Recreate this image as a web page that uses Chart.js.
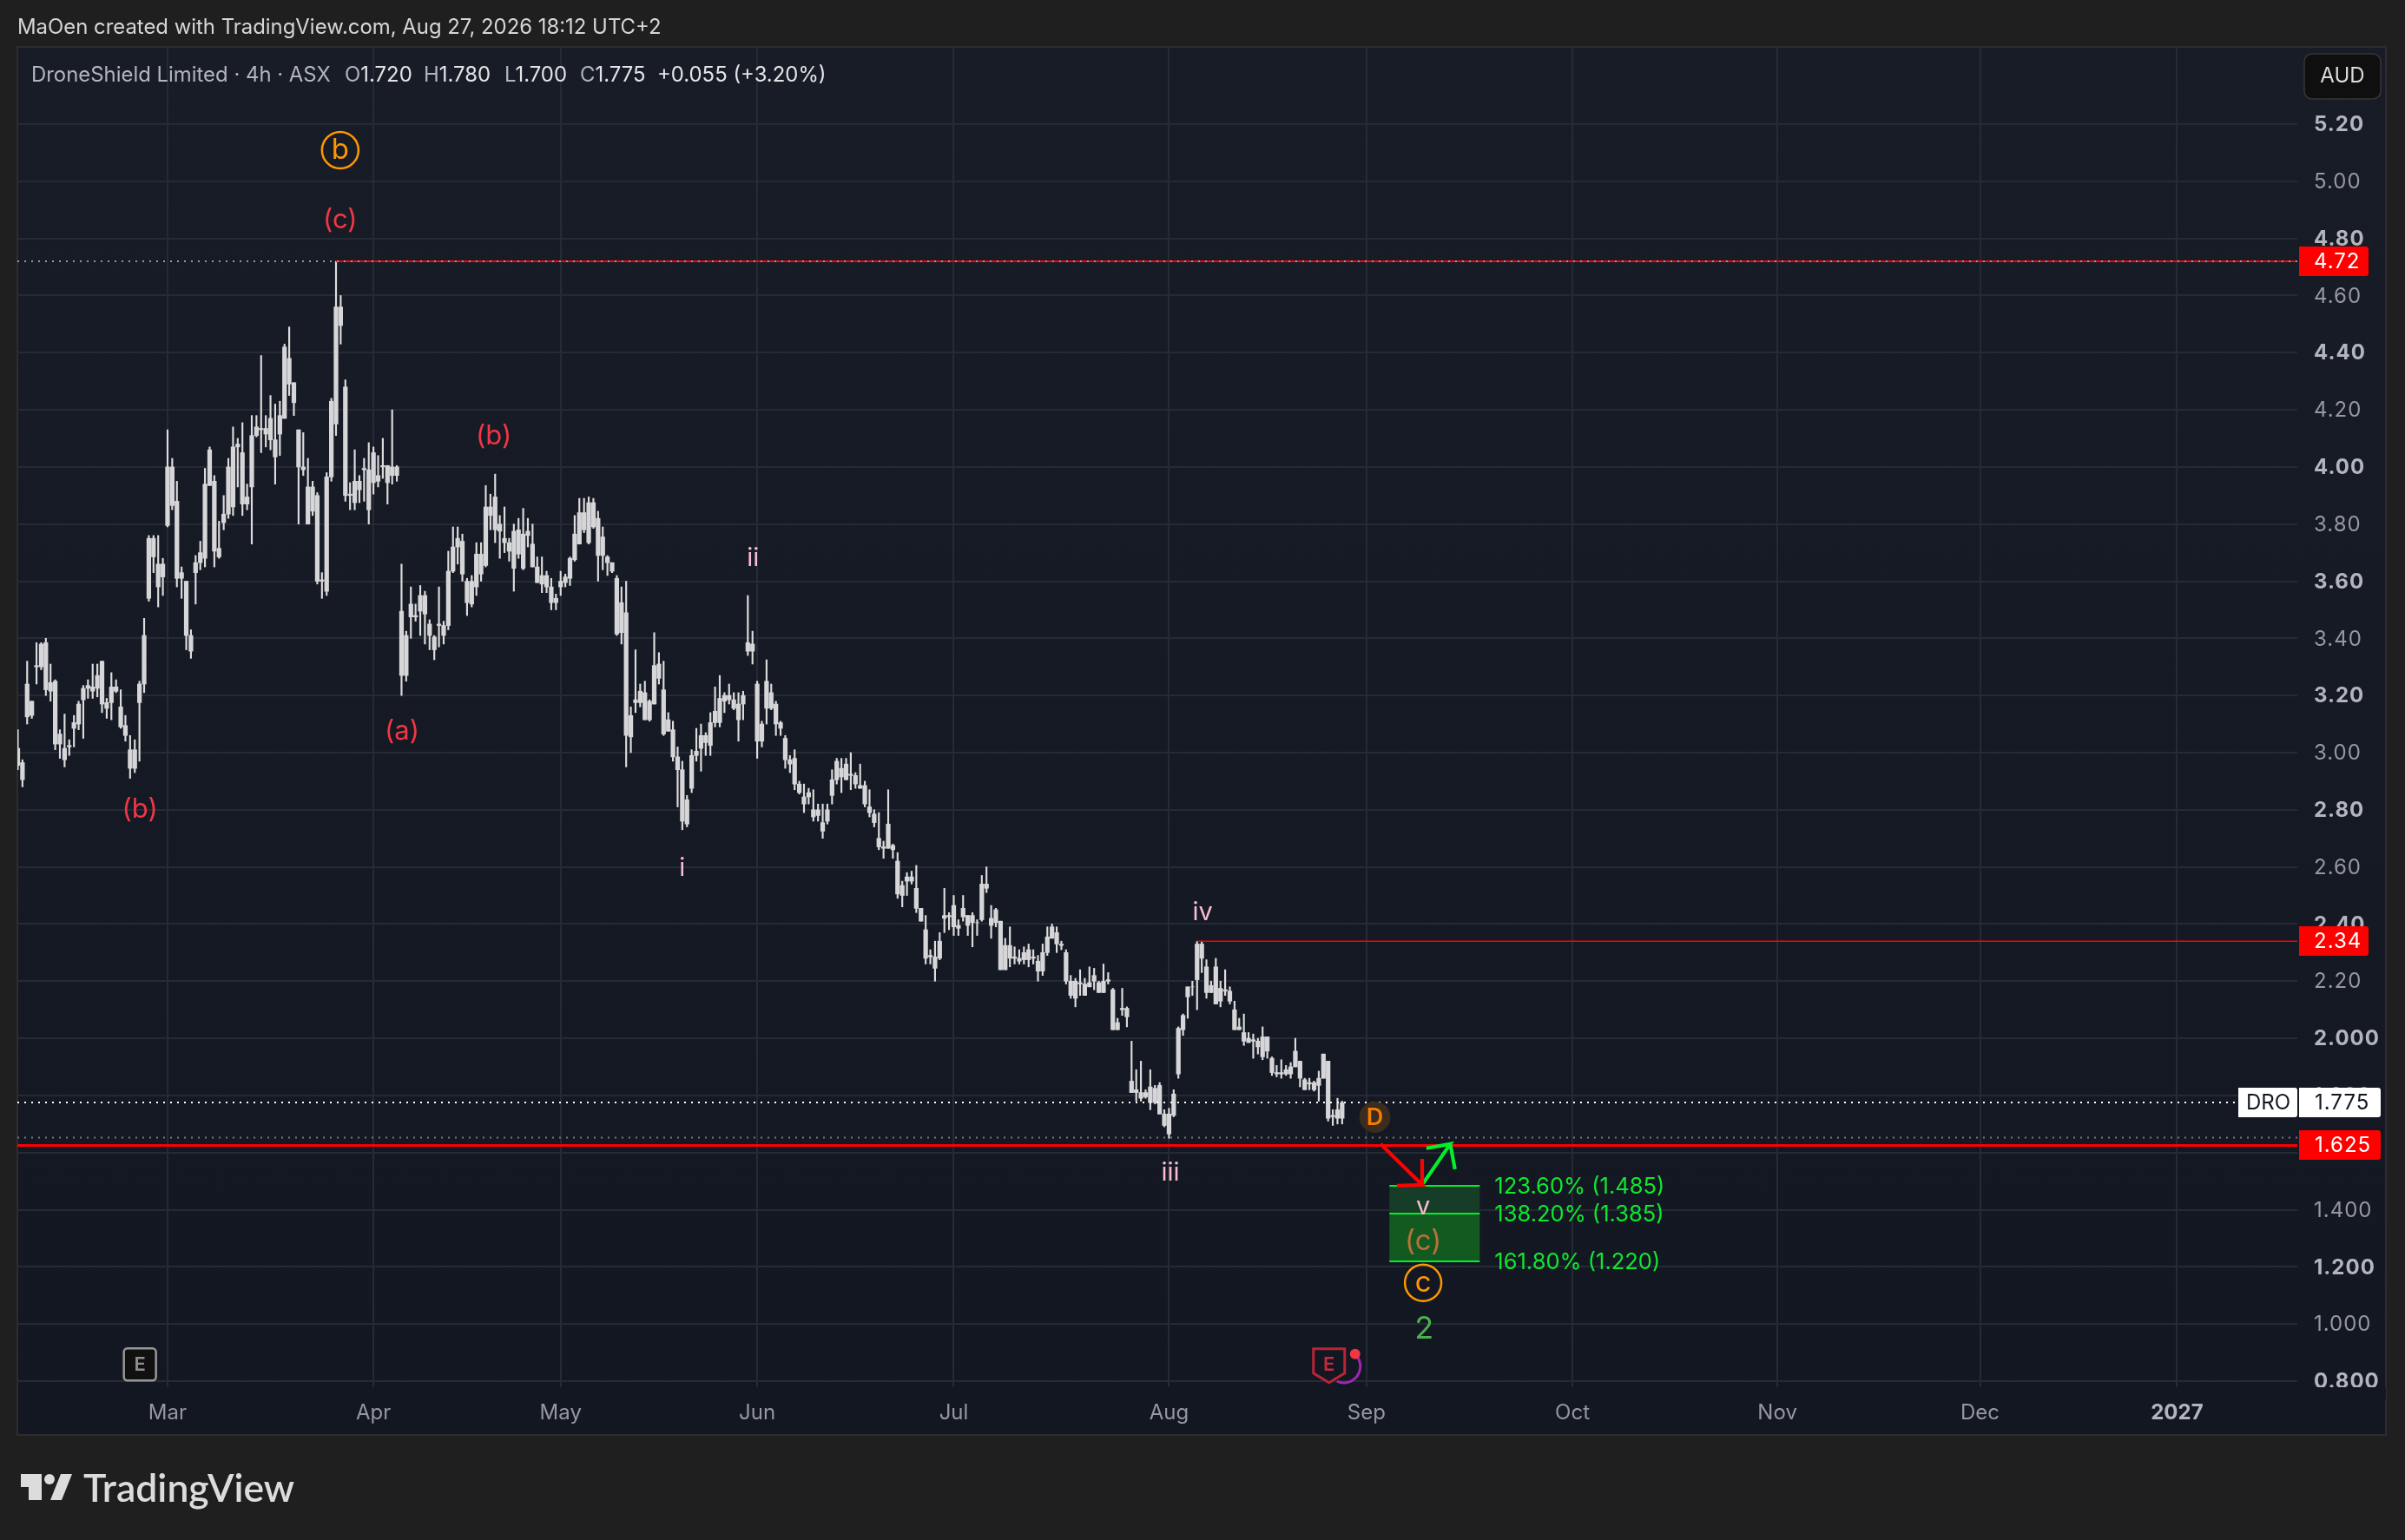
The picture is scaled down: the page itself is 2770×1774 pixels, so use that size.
<!DOCTYPE html>
<html>
<head>
<meta charset="utf-8">
<title>DroneShield Limited 4h</title>
<script src="https://cdn.jsdelivr.net/npm/chart.js@4"></script>
<style>
html, body { margin: 0; padding: 0; background: #1f1f1f; }
#page { position: relative; width: 2770px; height: 1774px; overflow: hidden; font-family: Inter, sans-serif; }
#pane { position: absolute; left: 19px; top: 53px; width: 2730px; height: 1601px; box-sizing: border-box;
        border: 2px solid #2d2d2f; background: linear-gradient(#181c27, #131722); }
#activityChart { position: absolute; left: 0; top: 0; }
.t { position: absolute; white-space: nowrap; font-size: 23.9px; line-height: 30px; }
.dim { color: #b2b5be; }
.val { color: #e4e4e6; }
</style>
</head>
<body>
<div id="page">
  <div id="pane"></div>
  <canvas id="activityChart" width="2770" height="1774"></canvas>
  <div class="t" style="left:20px;top:16px;color:#d6d6d6">MaOen created with TradingView.com, Aug 27, 2026 18:12 UTC+2</div>
  <div class="t dim" style="left:36px;top:71px">DroneShield Limited · 4h · ASX</div>
  <div class="t" style="left:397px;top:71px"><span class="dim">O</span><span class="val">1.720</span></div>
  <div class="t" style="left:488px;top:71px"><span class="dim">H</span><span class="val">1.780</span></div>
  <div class="t" style="left:581px;top:71px"><span class="dim">L</span><span class="val">1.700</span></div>
  <div class="t" style="left:668px;top:71px"><span class="dim">C</span><span class="val">1.775</span></div>
  <div class="t val" style="left:757px;top:71px">+0.055 (+3.20%)</div>
  <svg style="position:absolute;left:0;top:1690px" width="100" height="50">
    <path d="M24 8H48V38H33V23H24Z M70 8H83L71 38H58Z" fill="#dcdcdc"/>
    <circle cx="57" cy="14" r="6" fill="#dcdcdc"/>
  </svg>
  <div class="t" style="left:96px;top:1688px;font-size:44.5px;line-height:50px;font-weight:600;color:#dcdcdc;font-family:Lato,Inter,sans-serif">TradingView</div>
</div>
<script>
// wicks and bodies, one value per 4h bar
const wickHighs = [
    3.08,2.975,3.32,3.18,3.385,3.385,3.40,3.31,3.255,3.08,
    3.135,3.045,3.13,3.18,3.235,3.255,3.31,3.31,3.32,3.19,
    3.28,3.255,3.22,3.13,3.06,3.045,3.25,3.47,3.76,3.76,
    3.76,3.68,4.13,4.03,3.95,3.65,3.60,3.43,3.69,3.74,
    3.995,4.07,3.97,3.81,3.90,4.03,4.14,4.10,4.155,3.94,
    4.18,4.18,4.39,4.18,4.25,4.22,4.23,4.43,4.49,4.295,
    4.13,4.12,4.03,3.95,3.91,3.63,3.98,4.24,4.72,4.60,
    4.305,3.945,4.06,3.97,4.03,4.085,4.07,4.04,4.10,4.005,
    4.20,4.005,3.66,3.425,3.58,3.52,3.585,3.565,3.465,3.41,
    3.58,3.46,3.705,3.79,3.79,3.765,3.61,3.62,3.735,3.735,
    3.935,3.905,3.975,3.83,3.86,3.75,3.80,3.82,3.855,3.82,
    3.80,3.685,3.685,3.635,3.61,3.555,3.635,3.625,3.685,3.83,
    3.89,3.89,3.895,3.89,3.845,3.79,3.69,3.665,3.62,3.58,
    3.60,3.16,3.36,3.24,3.25,3.185,3.42,3.35,3.32,3.14,
    3.11,3.02,2.97,2.85,3.01,3.085,3.10,3.07,3.14,3.23,
    3.27,3.21,3.24,3.21,3.21,3.215,3.55,3.425,3.25,3.11,
    3.325,3.24,3.18,3.11,3.06,2.99,3.01,2.90,2.89,2.875,
    2.87,2.82,2.82,2.82,2.94,2.98,2.98,2.98,3.00,2.93,
    2.96,2.90,2.87,2.80,2.79,2.69,2.87,2.68,2.65,2.55,
    2.58,2.585,2.605,2.455,2.43,2.31,2.34,2.37,2.525,2.44,
    2.50,2.415,2.50,2.43,2.44,2.415,2.57,2.60,2.465,2.455,
    2.41,2.35,2.39,2.32,2.31,2.32,2.33,2.31,2.29,2.33,
    2.39,2.40,2.39,2.34,2.31,2.22,2.21,2.24,2.21,2.25,
    2.245,2.20,2.26,2.23,2.175,2.07,2.175,2.11,1.99,1.89,
    1.92,1.82,1.89,1.835,1.845,1.75,1.755,1.82,2.04,2.085,
    2.18,2.20,2.34,2.34,2.275,2.20,2.28,2.20,2.24,2.18,
    2.13,2.07,2.085,2.02,2.015,2.00,2.04,2.005,1.935,1.905,
    1.925,1.905,1.915,2.00,1.92,1.86,1.86,1.85,1.885,1.945,
    1.92,1.75,1.79,1.78,
];
const bodyHighs = [
    3.015,2.965,3.24,3.18,3.305,3.38,3.385,3.245,3.25,3.065,
    3.015,3.025,3.105,3.17,3.225,3.235,3.23,3.27,3.32,3.175,
    3.23,3.23,3.16,3.095,3.01,3.01,3.24,3.41,3.75,3.75,
    3.66,3.66,4.00,4.00,3.88,3.63,3.60,3.41,3.665,3.70,
    3.94,4.06,3.95,3.715,3.835,4.00,4.07,4.08,4.05,3.895,
    4.11,4.14,4.135,4.135,4.17,4.095,4.18,4.42,4.38,4.295,
    4.13,4.00,3.93,3.93,3.90,3.605,3.965,4.23,4.56,4.56,
    4.28,3.905,3.95,3.95,3.995,3.99,4.05,3.97,4.005,4.005,
    4.00,4.00,3.495,3.41,3.52,3.48,3.55,3.55,3.45,3.405,
    3.45,3.445,3.635,3.72,3.75,3.74,3.60,3.60,3.695,3.695,
    3.86,3.86,3.895,3.80,3.75,3.735,3.775,3.78,3.765,3.775,
    3.73,3.65,3.62,3.62,3.58,3.54,3.60,3.615,3.68,3.765,
    3.84,3.84,3.875,3.875,3.82,3.755,3.685,3.665,3.61,3.525,
    3.49,3.13,3.185,3.215,3.21,3.18,3.305,3.31,3.22,3.115,
    3.08,2.985,2.94,2.835,2.99,3.005,3.06,3.06,3.105,3.145,
    3.19,3.20,3.20,3.185,3.17,3.20,3.385,3.38,3.24,3.10,
    3.25,3.21,3.17,3.105,3.05,2.975,2.98,2.89,2.845,2.86,
    2.80,2.80,2.755,2.80,2.905,2.97,2.945,2.96,2.925,2.92,
    2.885,2.885,2.81,2.785,2.70,2.67,2.75,2.675,2.62,2.535,
    2.565,2.565,2.525,2.455,2.38,2.29,2.285,2.34,2.43,2.43,
    2.465,2.395,2.455,2.43,2.43,2.405,2.54,2.54,2.42,2.45,
    2.41,2.325,2.325,2.285,2.28,2.30,2.31,2.285,2.27,2.30,
    2.355,2.39,2.37,2.33,2.30,2.20,2.20,2.195,2.19,2.195,
    2.22,2.195,2.20,2.205,2.17,2.055,2.105,2.105,1.85,1.82,
    1.81,1.81,1.83,1.825,1.835,1.735,1.735,1.805,2.035,2.08,
    2.18,2.18,2.33,2.33,2.25,2.185,2.25,2.175,2.17,2.165,
    2.10,2.04,2.02,2.00,1.995,1.99,2.005,2.005,1.93,1.88,
    1.88,1.89,1.90,1.955,1.92,1.855,1.845,1.845,1.86,1.945,
    1.92,1.73,1.75,1.775,
];
const bodyLows = [
    2.955,2.905,3.125,3.13,3.30,3.30,3.22,3.215,3.03,3.03,
    2.975,3.02,3.085,3.10,3.185,3.225,3.215,3.225,3.17,3.155,
    3.175,3.215,3.09,3.06,2.945,2.945,3.175,3.24,3.54,3.685,
    3.58,3.615,3.795,3.865,3.61,3.61,3.41,3.355,3.63,3.665,
    3.68,3.935,3.705,3.685,3.805,3.835,3.86,4.07,3.87,3.87,
    3.93,4.11,4.13,4.115,4.095,4.035,4.115,4.17,4.29,4.225,
    4.00,3.99,3.80,3.845,3.60,3.60,3.565,3.965,4.15,4.495,
    3.90,3.90,3.875,3.92,3.99,3.85,3.945,3.95,4.00,3.945,
    3.97,3.97,3.27,3.27,3.475,3.475,3.495,3.485,3.41,3.36,
    3.445,3.41,3.445,3.635,3.72,3.625,3.525,3.52,3.58,3.625,
    3.655,3.83,3.78,3.775,3.735,3.705,3.645,3.695,3.645,3.76,
    3.65,3.595,3.59,3.58,3.525,3.525,3.58,3.595,3.61,3.675,
    3.73,3.78,3.735,3.79,3.69,3.69,3.665,3.635,3.415,3.42,
    3.06,3.055,3.175,3.175,3.115,3.115,3.17,3.26,3.065,3.075,
    2.985,2.94,2.76,2.75,2.875,2.99,3.015,3.035,3.025,3.105,
    3.105,3.18,3.185,3.155,3.115,3.17,3.355,3.355,3.04,3.04,
    3.155,3.155,3.10,3.085,2.975,2.96,2.89,2.86,2.82,2.845,
    2.775,2.78,2.725,2.76,2.85,2.905,2.915,2.905,2.92,2.89,
    2.875,2.82,2.79,2.755,2.67,2.665,2.665,2.66,2.505,2.50,
    2.55,2.55,2.455,2.41,2.28,2.285,2.245,2.28,2.42,2.425,
    2.39,2.385,2.425,2.395,2.405,2.405,2.415,2.525,2.395,2.405,
    2.24,2.24,2.28,2.28,2.27,2.275,2.275,2.28,2.235,2.235,
    2.30,2.35,2.33,2.325,2.20,2.15,2.14,2.19,2.15,2.18,
    2.20,2.16,2.16,2.20,2.03,2.03,2.10,2.075,1.81,1.81,
    1.79,1.795,1.775,1.775,1.735,1.695,1.665,1.73,1.875,2.03,
    2.145,2.18,2.205,2.28,2.16,2.16,2.12,2.13,2.165,2.13,
    2.03,2.03,1.99,1.985,1.99,1.97,1.935,1.955,1.88,1.875,
    1.875,1.875,1.875,1.90,1.86,1.82,1.84,1.82,1.835,1.86,
    1.72,1.725,1.72,1.72,
];
const wickLows = [
    2.94,2.88,3.10,3.12,3.24,3.29,3.20,3.18,3.01,2.98,
    2.95,2.99,3.02,3.08,3.05,3.19,3.19,3.195,3.14,3.12,
    3.115,3.21,3.085,3.04,2.91,2.93,2.97,3.21,3.53,3.63,
    3.51,3.55,3.79,3.85,3.58,3.54,3.36,3.33,3.52,3.64,
    3.65,3.935,3.65,3.68,3.78,3.82,3.83,3.93,3.83,3.85,
    3.73,4.105,4.05,4.07,4.06,3.94,4.04,4.17,4.25,4.18,
    3.80,3.97,3.80,3.83,3.59,3.54,3.55,3.95,4.11,4.43,
    3.88,3.85,3.85,3.875,3.88,3.80,3.905,3.93,3.96,3.87,
    3.94,3.95,3.20,3.25,3.40,3.46,3.41,3.38,3.36,3.325,
    3.37,3.38,3.43,3.63,3.66,3.60,3.48,3.51,3.55,3.60,
    3.65,3.78,3.735,3.68,3.70,3.67,3.565,3.68,3.64,3.72,
    3.65,3.595,3.56,3.56,3.50,3.50,3.55,3.58,3.585,3.67,
    3.73,3.77,3.73,3.785,3.60,3.64,3.62,3.63,3.41,3.38,
    2.95,3.00,3.14,3.16,3.115,3.11,3.17,3.24,3.06,3.075,
    2.97,2.81,2.73,2.74,2.86,2.97,2.935,2.99,2.99,3.09,
    3.09,3.14,3.17,3.15,3.04,3.115,3.34,3.31,2.98,3.02,
    3.10,3.15,3.06,3.06,2.945,2.93,2.87,2.855,2.79,2.82,
    2.76,2.76,2.70,2.75,2.82,2.89,2.86,2.905,2.87,2.875,
    2.875,2.81,2.775,2.74,2.66,2.63,2.665,2.63,2.49,2.46,
    2.50,2.54,2.44,2.41,2.26,2.26,2.20,2.275,2.37,2.38,
    2.36,2.36,2.41,2.36,2.32,2.36,2.41,2.51,2.35,2.39,
    2.24,2.24,2.25,2.26,2.26,2.26,2.25,2.26,2.20,2.22,
    2.29,2.35,2.30,2.31,2.19,2.14,2.11,2.15,2.15,2.18,
    2.17,2.16,2.16,2.19,2.03,2.03,2.08,2.04,1.81,1.78,
    1.78,1.79,1.75,1.77,1.735,1.69,1.65,1.725,1.86,2.01,
    2.07,2.15,2.10,2.23,2.14,2.16,2.12,2.11,2.15,2.12,
    2.03,2.03,1.975,1.985,1.93,1.945,1.925,1.93,1.87,1.865,
    1.86,1.87,1.86,1.90,1.83,1.82,1.82,1.815,1.78,1.86,
    1.71,1.695,1.70,1.70,
];

const monthTicks = [32, 76, 116, 158, 200, 246, 288.2, 332.2, 376, 419.3, 461.4];
const monthLabels = ["Mar", "Apr", "May", "Jun", "Jul", "Aug", "Sep", "Oct", "Nov", "Dec", "2027"];
const priceTicks = [5.2, 5.0, 4.8, 4.6, 4.4, 4.2, 4.0, 3.8, 3.6, 3.4, 3.2, 3.0, 2.8, 2.6, 2.4, 2.2, 2.0, 1.8, 1.6, 1.4, 1.2, 1.0, 0.8];
const priceLabels = ["5.20", "5.00", "4.80", "4.60", "4.40", "4.20", "4.00", "3.80", "3.60", "3.40", "3.20", "3.00", "2.80", "2.60", "2.40", "2.20", "2.000", "1.800", "1.600", "1.400", "1.200", "1.000", "0.800"];

// wave counts: text, bar, price
const redWaves = [["(c)", 68.9, 4.863], ["(b)", 101.7, 4.106], ["(a)", 82.1, 3.073], ["(b)", 26.1, 2.80]];
const pinkWaves = [["ii", 157.1, 3.681], ["i", 142, 2.596], ["iv", 253.2, 2.441], ["iii", 246.3, 1.529], ["v", 300.3, 1.411]];
const circledWaves = [["b", 68.9, 5.109], ["c", 300.3, 1.144]];

const fibBars = [293.1, 312.4];
const fibPrices = [1.485, 1.385, 1.22];
const fibLabels = ["123.60% (1.485)", "138.20% (1.385)", "161.80% (1.220)"];

const redArrow = [[291.2, 1.63], [300.1, 1.487], [294.7, 1.484], [300.1, 1.487], [300.1, 1.578]];
const greenArrow = [[300.1, 1.487], [306.1, 1.63], [301.0, 1.615], [306.1, 1.63], [307.1, 1.542]];

const xMin = -0.09, xMax = 487.11, yMin = 0.7786, yMax = 5.4735;

function flatLine(fromBar, price, color, dash, order, width) {
    return {
        type: "line",
        data: [{x: fromBar, y: price}, {x: xMax, y: price}],
        borderColor: color,
        borderWidth: width,
        borderDash: dash,
        pointRadius: 0,
        order: order,
    };
}
function pathLine(points, color) {
    return {
        type: "line",
        data: points.map(p => ({x: p[0], y: p[1]})),
        borderColor: color,
        borderWidth: 4.2,
        pointRadius: 0,
        order: 1,
    };
}

const chartDecor = {
    id: "chartDecor",
    beforeDatasetsDraw(chart) {
        const {ctx, scales: {x, y}} = chart;
        const l = x.getPixelForValue(fibBars[0]), r = x.getPixelForValue(fibBars[1]);
        const p = fibPrices.map(v => y.getPixelForValue(v));
        ctx.save();
        ctx.fillStyle = "#153d27";
        ctx.fillRect(l, p[0], r - l, p[1] - p[0]);
        ctx.fillStyle = "#135a20";
        ctx.fillRect(l, p[1], r - l, p[2] - p[1]);
        ctx.strokeStyle = "#00f02c";
        ctx.lineWidth = 2;
        p.forEach(v => {
            ctx.beginPath();
            ctx.moveTo(l, Math.round(v));
            ctx.lineTo(r, Math.round(v));
            ctx.stroke();
        });
        ctx.restore();
    },
    afterDatasetsDraw(chart) {
        // the price column is spaced a little wider than plain Inter
        chart.ctx.letterSpacing = "1px";
    },
    afterDraw(chart) {
        const {ctx, scales: {x, y}} = chart;
        ctx.letterSpacing = "0px";
        ctx.save();
        ctx.textBaseline = "middle";
        ctx.textAlign = "center";

        // 0.800 is cut off at the bottom of the price column
        ctx.fillStyle = "#131722";
        ctx.fillRect(2647, 1598, 101, 14);

        ctx.font = "31px Inter";
        ctx.fillStyle = "#f23645";
        redWaves.forEach(w => ctx.fillText(w[0], x.getPixelForValue(w[1]), y.getPixelForValue(w[2])));
        ctx.font = "29px Inter";
        ctx.fillStyle = "#f8bbd0";
        pinkWaves.forEach(w => ctx.fillText(w[0], x.getPixelForValue(w[1]), y.getPixelForValue(w[2])));

        ctx.font = "33px Inter";
        ctx.fillStyle = "#b8713a";
        ctx.fillText("(c)", x.getPixelForValue(300.3), y.getPixelForValue(1.289));
        ctx.font = "36px Inter";
        ctx.fillStyle = "#4caf50";
        ctx.fillText("2", x.getPixelForValue(300.5), y.getPixelForValue(0.982));

        ctx.font = "33px Inter";
        ctx.lineWidth = 2.5;
        ctx.strokeStyle = ctx.fillStyle = "#ff9800";
        circledWaves.forEach(w => {
            const cx = x.getPixelForValue(w[1]), cy = y.getPixelForValue(w[2]);
            ctx.beginPath();
            ctx.arc(cx, cy, 21, 0, Math.PI * 2);
            ctx.stroke();
            ctx.fillText(w[0], cx, cy);
        });

        const r = x.getPixelForValue(fibBars[1]);
        ctx.textAlign = "left";
        ctx.font = "25.5px Inter";
        ctx.fillStyle = "#0fe82f";
        fibPrices.forEach((v, i) => ctx.fillText(fibLabels[i], r + 17, Math.round(y.getPixelForValue(v)) + 1));

        // dividend badge
        ctx.textAlign = "center";
        let bx = x.getPixelForValue(290), by = y.getPixelForValue(1.724);
        ctx.fillStyle = "#3a2c1e";
        ctx.beginPath();
        ctx.arc(bx, by, 18, 0, Math.PI * 2);
        ctx.fill();
        ctx.font = "600 27px Inter";
        ctx.fillStyle = "#f57c00";
        ctx.fillText("D", bx, by + 1);

        // past earnings badge
        bx = x.getPixelForValue(26.1);
        by = y.getPixelForValue(0.858);
        ctx.fillStyle = "#101010";
        ctx.strokeStyle = "#989898";
        ctx.lineWidth = 2.5;
        ctx.beginPath();
        ctx.roundRect(bx - 18.5, by - 18.5, 37, 37, 4);
        ctx.fill();
        ctx.stroke();
        ctx.font = "600 22px Inter";
        ctx.fillStyle = "#8f8f8f";
        ctx.fillText("E", bx, by + 1);

        // next earnings badge
        bx = x.getPixelForValue(280.2);
        by = y.getPixelForValue(0.855);
        ctx.strokeStyle = "#9c27b0";
        ctx.lineWidth = 3;
        ctx.beginPath();
        ctx.arc(bx + 17, by + 1, 19, -1.1, 2, false);
        ctx.stroke();
        ctx.fillStyle = "#131722";
        ctx.strokeStyle = "#b82537";
        ctx.lineWidth = 3;
        ctx.beginPath();
        ctx.moveTo(bx - 18, by - 19);
        ctx.lineTo(bx + 18, by - 19);
        ctx.lineTo(bx + 18, by + 9);
        ctx.lineTo(bx, by + 20);
        ctx.lineTo(bx - 18, by + 9);
        ctx.closePath();
        ctx.fill();
        ctx.stroke();
        ctx.font = "600 22px Inter";
        ctx.fillStyle = "#c42b3c";
        ctx.fillText("E", bx, by);
        ctx.fillStyle = "#f23645";
        ctx.beginPath();
        ctx.arc(bx + 30, by - 13, 6, 0, Math.PI * 2);
        ctx.fill();

        // price column tags
        function tag(left, width, price, bg, fg, text, textX, spacing) {
            const py = Math.round(y.getPixelForValue(price));
            ctx.fillStyle = bg;
            ctx.beginPath();
            ctx.roundRect(left, py - 17, width, 34, [0, 3, 3, 0]);
            ctx.fill();
            ctx.fillStyle = fg;
            ctx.textAlign = "left";
            ctx.font = "24px Inter";
            ctx.letterSpacing = spacing;
            ctx.fillText(text, textX, py + 1);
            ctx.letterSpacing = "0px";
        }
        tag(2648, 80, 4.72, "#ff0000", "#ffffff", "4.72", 2665, "1px");
        tag(2648, 80, 2.34, "#ff0000", "#ffffff", "2.34", 2665, "1px");
        tag(2648, 94, 1.625, "#ff0000", "#ffffff", "1.625", 2666, "1px");
        tag(2648, 94, 1.775, "#ffffff", "#131722", "1.775", 2666, "1px");
        tag(2578, 68, 1.775, "#ffffff", "#131722", "DRO", 2587, "0px");

        ctx.fillStyle = "#0f0f0f";
        ctx.strokeStyle = "#363636";
        ctx.lineWidth = 1.5;
        ctx.beginPath();
        ctx.roundRect(2654, 62, 88, 52, 9);
        ctx.fill();
        ctx.stroke();
        ctx.fillStyle = "#dbdbdb";
        ctx.textAlign = "center";
        ctx.fillText("AUD", 2698, 88);
        ctx.restore();
    },
};

new Chart(document.getElementById("activityChart").getContext("2d"), {
    type: "bar",
    plugins: [chartDecor],
    data: {
        datasets: [
            {
                data: wickHighs.map((v, i) => ({x: i, y: [wickLows[i], v]})),
                backgroundColor: "#dcdcdc",
                barThickness: 1.5,
                grouped: false,
                order: 6,
            },
            {
                data: bodyHighs.map((v, i) => ({x: i, y: [bodyLows[i], v]})),
                backgroundColor: "#d6d6d8",
                barThickness: 4.6,
                grouped: false,
                order: 5,
            },
            flatLine(68, 4.72, "#ff0000", [], 4, 2),
            flatLine(252, 2.34, "#ff0000", [], 4, 1.5),
            flatLine(xMin, 1.625, "#ff0000", [], 4, 3),
            flatLine(xMin, 4.72, "#9598a1", [2, 6], 3, 2),
            flatLine(xMin, 1.652, "#787b86", [2, 6], 3, 2),
            flatLine(xMin, 1.775, "#ffffff", [2, 6], 3, 2),
            pathLine(redArrow, "#ff0000"),
            pathLine(greenArrow, "#00f02c"),
        ],
    },
    options: {
        responsive: false,
        devicePixelRatio: 1,
        animation: false,
        layout: {padding: {left: 20, right: 20, top: 53, bottom: 121}},
        plugins: {legend: {display: false}, tooltip: {enabled: false}},
        scales: {
            x: {
                type: "linear",
                min: xMin,
                max: xMax,
                offset: false,
                grid: {offset: false, color: "#262a35", lineWidth: 2, drawTicks: false},
                border: {display: false},
                afterBuildTicks: s => { s.ticks = monthTicks.map(v => ({value: v})); },
                afterFit: s => { s.height = 55; },
                ticks: {
                    autoSkip: false,
                    maxRotation: 0,
                    padding: 15,
                    color: ctx => ctx.index === 10 ? "#b2b5be" : "#9598a1",
                    font: ctx => ({family: "Inter", size: 24, weight: ctx.index === 10 ? "bold" : "normal"}),
                    callback: (v, i) => monthLabels[i],
                },
            },
            y: {
                position: "right",
                min: yMin,
                max: yMax,
                grid: {color: "#262a35", lineWidth: 2, drawTicks: false},
                border: {display: false},
                afterBuildTicks: s => { s.ticks = priceTicks.map(v => ({value: v})); },
                afterFit: s => { s.width = 104; },
                ticks: {
                    autoSkip: false,
                    crossAlign: "near",
                    padding: 19,
                    labelOffset: 1,
                    z: 1,
                    color: ctx => ctx.index % 2 === 0 ? "#b2b5be" : "#9598a1",
                    font: ctx => ({family: "Inter", size: 24, weight: ctx.index % 2 === 0 ? "bold" : "normal"}),
                    callback: (v, i) => priceLabels[i],
                },
            },
        },
    },
});
</script>
</body>
</html>
